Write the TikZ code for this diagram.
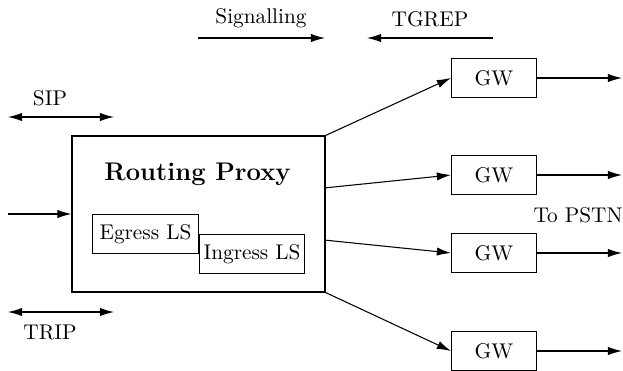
\documentclass[tikz,border=0pt]{standalone}
\usepackage{tikz}
\usetikzlibrary{arrows.meta,positioning,calc}
\tikzset{
	flow/.style={line width=0.5pt,-{Latex[length=6.6pt,width=3.9pt]}},
	both/.style={line width=0.5pt,{Latex[length=6.6pt,width=3.9pt]}-{Latex[length=6.6pt,width=3.9pt]}},
	gwbox/.style={draw,line width=0.5pt,minimum width=40pt,minimum height=18.3pt,inner sep=0pt},
	lsbox/.style={draw,line width=0.5pt,minimum width=49.6pt,minimum height=18.2pt,inner sep=0pt}
}
\newcommand{\tippos}{622}

\begin{document}
\begin{tikzpicture}[x=0.47pt,y=-0.47pt]
		\useasboundingbox (0,0) rectangle (623,371);

		% routing proxy with its two location servers
		\node[draw,line width=0.5pt,minimum width=118.9pt,minimum height=73.3pt,inner sep=0pt] (rp) at (198.5,214) {};
		\node at (197.5,174) {\large\bfseries Routing Proxy};
		\node[lsbox,anchor=north west] (egress) at ($(rp.west)+(20.7,0)$) {Egress LS};
		\node[lsbox,anchor=north west] (ingress) at (egress.east) {Ingress LS};

		% incoming signalling
		\coordinate (in) at (8,214);
		\draw[flow] (in) -- (rp.west);

		% protocols
		\coordinate (sipl) at (8,117);
		\coordinate (sipr) at (114,117);
		\draw[both] (sipl) -- (sipr);
		\node (sip) at (50,98) {SIP};
		\coordinate (tripl) at (8,312);
		\coordinate (tripr) at (114,312);
		\draw[both] (tripl) -- (tripr);
		\node (trip) at (50,332) {TRIP};

		\coordinate (sigl) at (198,38);
		\coordinate (sigr) at (325,38);
		\draw[flow] (sigl) -- (sigr);
		\node (sig) at (261,18) {Signalling};
		\coordinate (tgrepr) at (493,38);
		\coordinate (tgrepl) at (367,38);
		\draw[flow] (tgrepr) -- (tgrepl);
		\node (tgrep) at (430,19) {TGREP};

		% gateways
		\foreach \y [count=\i] in {78,175,253,351} {
			\node[gwbox] (gw\i) at (494,\y) {GW};
			\coordinate (out\i) at (\tippos,\y);
			\draw[flow] (gw\i.east) -- (out\i);
		}
		\node (pstn) at (578,215) {To PSTN};

		\draw[flow] (rp.north east) -- (gw1.west);
		\draw[flow] ($(rp.north east)!1/3!(rp.south east)$) -- (gw2.west);
		\draw[flow] ($(rp.north east)!2/3!(rp.south east)$) -- (gw3.west);
		\draw[flow] (rp.south east) -- (gw4.west);
	\end{tikzpicture}
\end{document}
